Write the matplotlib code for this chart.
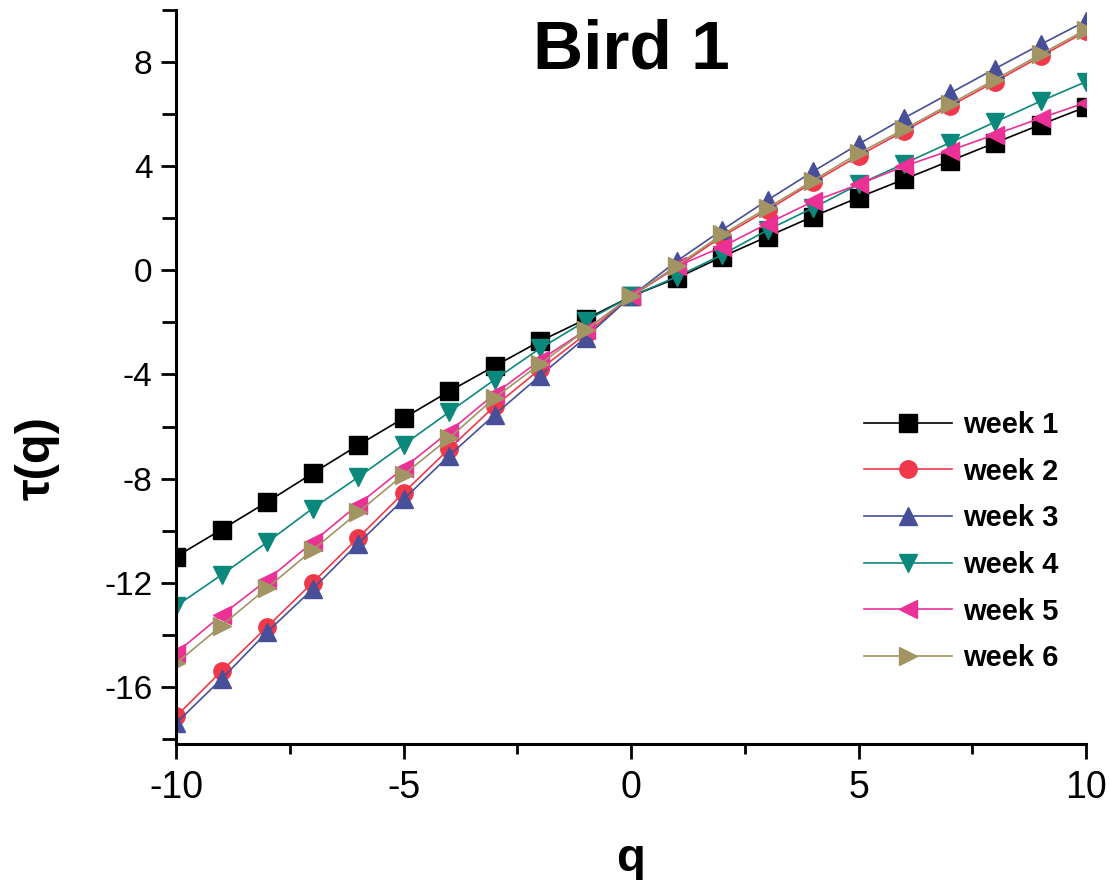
import matplotlib
matplotlib.use("Agg")
import matplotlib.pyplot as plt
from matplotlib import font_manager as fm
from matplotlib.ticker import MultipleLocator

q = list(range(-10, 11))
week1 = [-11.0, -9.96, -8.9, -7.8, -6.72, -5.68, -4.65, -3.68, -2.72, -1.88, -1.0,
         -0.3, 0.52, 1.3, 2.07, 2.8, 3.5, 4.2, 4.9, 5.6, 6.28]
week2 = [-17.14, -15.4, -13.7, -12.0, -10.28, -8.55, -6.86, -5.22, -3.8, -2.46, -1.0,
         0.12, 1.3, 2.32, 3.38, 4.4, 5.35, 6.3, 7.25, 8.22, 9.18]
week3 = [-17.4, -15.7, -13.9, -12.25, -10.5, -8.8, -7.12, -5.55, -4.05, -2.58, -1.0,
         0.35, 1.55, 2.7, 3.8, 4.85, 5.85, 6.8, 7.75, 8.68, 9.58]
week4 = [-12.9, -11.7, -10.45, -9.15, -7.95, -6.7, -5.45, -4.2, -3.0, -1.95, -1.0,
         -0.25, 0.6, 1.55, 2.4, 3.3, 4.1, 4.9, 5.7, 6.5, 7.25]
week5 = [-14.7, -13.25, -11.9, -10.45, -9.0, -7.6, -6.2, -4.75, -3.45, -2.3, -1.0,
         0.15, 0.9, 1.8, 2.65, 3.3, 4.0, 4.6, 5.22, 5.85, 6.45]
week6 = [-15.1, -13.65, -12.2, -10.75, -9.3, -7.85, -6.45, -4.9, -3.6, -2.3, -1.0,
         0.17, 1.38, 2.4, 3.45, 4.5, 5.42, 6.38, 7.33, 8.3, 9.25]
labels = ["week 1", "week 2", "week 3", "week 4", "week 5", "week 6"]
series = [week1, week2, week3, week4, week5, week6]
colors = ["#000000", "#F0384A", "#474F98", "#0B887C", "#EC3196", "#A39464"]
markers = ["s", "o", "^", "v", "<", ">"]

names = {f.name for f in fm.fontManager.ttflist}
main_font = "Liberation Sans" if "Liberation Sans" in names else "DejaVu Sans"
narrow_font = "Liberation Sans Narrow" if "Liberation Sans Narrow" in names else main_font
plt.rcParams["font.family"] = [main_font, "DejaVu Sans"]
plt.rcParams["axes.unicode_minus"] = False

fig = plt.figure(figsize=(11.1, 8.8), dpi=100)
ax = fig.add_axes([0.1586, 0.1545, 0.8198, 0.834])

for ys, lab, c, m in zip(series, labels, colors, markers):
    ax.plot(q, ys, color=c, lw=1.2, marker=m, markersize=12.5,
            markeredgecolor=c, markerfacecolor=c, label=lab)

ax.set_xlim(-10, 10)
ax.set_ylim(-18.2, 10)
ax.xaxis.set_major_locator(MultipleLocator(5))
ax.xaxis.set_minor_locator(MultipleLocator(2.5))
ax.yaxis.set_major_locator(MultipleLocator(4))
ax.yaxis.set_minor_locator(MultipleLocator(2))
ax.set_yticks([-16, -12, -8, -4, 0, 4, 8])

for s in ["top", "right"]:
    ax.spines[s].set_visible(False)
for s in ["left", "bottom"]:
    ax.spines[s].set_linewidth(2.2)

ax.tick_params(axis="both", which="major", direction="out", width=2, length=11)
ax.tick_params(axis="both", which="minor", direction="out", width=2, length=7)
ax.tick_params(axis="y", which="minor", length=10)
ax.tick_params(axis="y", labelsize=24, pad=6)
ax.tick_params(axis="x", labelsize=27, pad=8)
for t in ax.get_xticklabels():
    t.set_fontfamily([narrow_font, "DejaVu Sans"])

ax.set_xlabel("q", fontsize=34, fontweight="bold", labelpad=22)
ax.set_ylabel("τ(q)", fontsize=35, fontweight="bold")
ax.yaxis.set_label_coords(-0.128, 0.39)

ax.text(0.50, 0.945, "Bird 1", transform=ax.transAxes, ha="center", va="center",
        fontsize=50, fontweight="bold")

leg = ax.legend(loc="lower right", bbox_to_anchor=(0.983, 0.082), frameon=False,
                prop={"size": 21, "weight": "bold"}, handlelength=3.0,
                labelspacing=0.64, handletextpad=0.4, borderaxespad=0.0)

fig.savefig("out.png", dpi=100)
